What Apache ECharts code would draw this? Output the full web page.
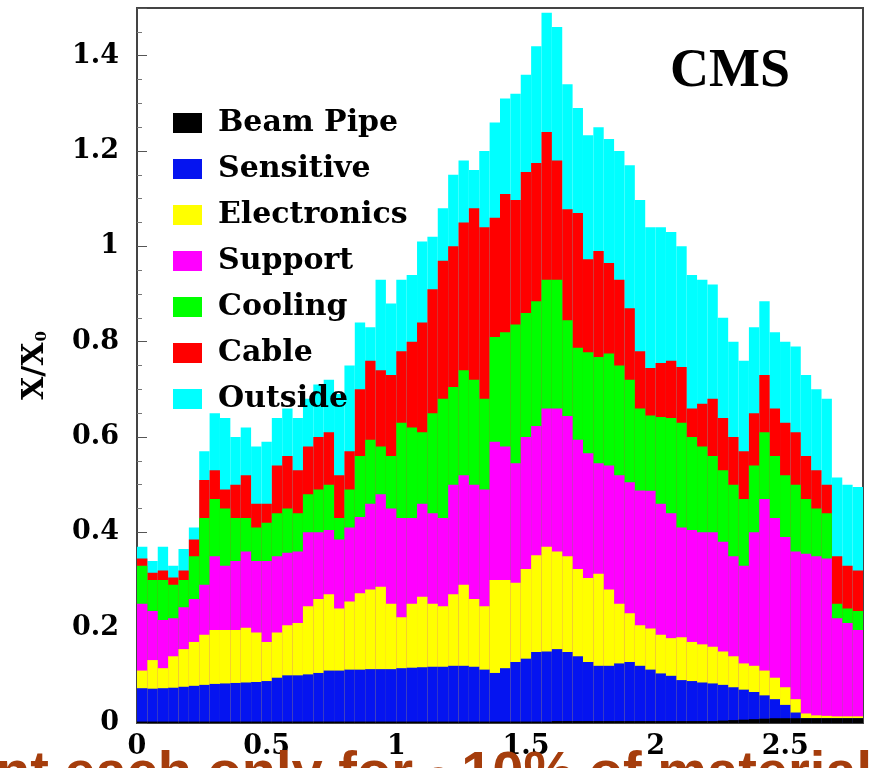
<!DOCTYPE html>
<html>
<head>
<meta charset="utf-8">
<script src="https://cdn.jsdelivr.net/npm/echarts@6/dist/echarts.min.js"></script>
<style>
	html, body { margin: 0; background: #fff; }
	#chart { width: 871px; height: 768px; }
</style>
</head>
<body>
<div id="chart"></div>
<script>
// eta histogram, bins of 0.04 from 0 to 2.8; each array holds the cumulative top of a layer (X/X0)
const binWidth = 0.04;

const beamTop = [
	0.003, 0.003, 0.003, 0.003, 0.003, 0.003, 0.003, 0.003, 0.003, 0.003,
	0.003, 0.003, 0.003, 0.003, 0.003, 0.003, 0.003, 0.003, 0.003, 0.003,
	0.003, 0.003, 0.003, 0.003, 0.003, 0.003, 0.003, 0.003, 0.003, 0.003,
	0.003, 0.003, 0.003, 0.003, 0.003, 0.003, 0.003, 0.003, 0.003, 0.003,
	0.004, 0.004, 0.004, 0.004, 0.004, 0.004, 0.004, 0.004, 0.004, 0.004,
	0.004, 0.004, 0.004, 0.004, 0.004, 0.004, 0.005, 0.006, 0.007, 0.008,
	0.009, 0.010, 0.010, 0.010, 0.010, 0.010, 0.010, 0.010, 0.010, 0.010
];
const sensitiveTop = [
	0.073, 0.072, 0.073, 0.074, 0.076, 0.078, 0.080, 0.082, 0.083, 0.084,
	0.085, 0.086, 0.088, 0.095, 0.100, 0.100, 0.102, 0.105, 0.110, 0.110,
	0.112, 0.112, 0.113, 0.113, 0.113, 0.115, 0.116, 0.117, 0.118, 0.118,
	0.120, 0.120, 0.118, 0.112, 0.105, 0.115, 0.128, 0.135, 0.149, 0.150,
	0.155, 0.149, 0.140, 0.128, 0.120, 0.120, 0.125, 0.128, 0.120, 0.112,
	0.104, 0.099, 0.090, 0.088, 0.085, 0.083, 0.080, 0.075, 0.070, 0.065,
	0.058, 0.050, 0.038, 0.022, 0.010, 0.010, 0.010, 0.010, 0.010, 0.010
];
const electronicsTop = [
	0.110, 0.132, 0.115, 0.140, 0.155, 0.170, 0.185, 0.195, 0.195, 0.195,
	0.200, 0.190, 0.170, 0.190, 0.205, 0.210, 0.245, 0.260, 0.270, 0.240,
	0.255, 0.272, 0.280, 0.286, 0.250, 0.222, 0.250, 0.265, 0.250, 0.245,
	0.270, 0.290, 0.260, 0.245, 0.300, 0.300, 0.294, 0.323, 0.352, 0.370,
	0.360, 0.350, 0.323, 0.304, 0.313, 0.280, 0.250, 0.230, 0.205, 0.198,
	0.185, 0.178, 0.180, 0.170, 0.165, 0.160, 0.150, 0.140, 0.125, 0.120,
	0.110, 0.095, 0.075, 0.050, 0.020, 0.016, 0.015, 0.014, 0.014, 0.014
];
const supportTop = [
	0.250, 0.235, 0.216, 0.220, 0.243, 0.260, 0.290, 0.350, 0.330, 0.340,
	0.360, 0.340, 0.340, 0.350, 0.357, 0.360, 0.400, 0.400, 0.405, 0.385,
	0.410, 0.432, 0.460, 0.480, 0.450, 0.430, 0.430, 0.460, 0.440, 0.430,
	0.500, 0.520, 0.500, 0.490, 0.590, 0.580, 0.545, 0.600, 0.623, 0.660,
	0.660, 0.644, 0.594, 0.566, 0.545, 0.540, 0.520, 0.505, 0.488, 0.487,
	0.460, 0.440, 0.410, 0.405, 0.400, 0.400, 0.380, 0.350, 0.330, 0.400,
	0.470, 0.430, 0.390, 0.360, 0.355, 0.350, 0.345, 0.220, 0.210, 0.195
];
const coolingTop = [
	0.330, 0.300, 0.300, 0.290, 0.300, 0.350, 0.430, 0.470, 0.450, 0.430,
	0.430, 0.410, 0.420, 0.440, 0.450, 0.440, 0.480, 0.490, 0.500, 0.430,
	0.490, 0.560, 0.594, 0.580, 0.560, 0.630, 0.620, 0.610, 0.650, 0.680,
	0.705, 0.740, 0.720, 0.680, 0.810, 0.820, 0.836, 0.860, 0.885, 0.930,
	0.930, 0.845, 0.787, 0.778, 0.768, 0.775, 0.750, 0.720, 0.660, 0.645,
	0.642, 0.640, 0.630, 0.600, 0.580, 0.560, 0.530, 0.500, 0.470, 0.540,
	0.610, 0.560, 0.520, 0.500, 0.470, 0.450, 0.440, 0.250, 0.240, 0.235
];
const cableTop = [
	0.345, 0.315, 0.320, 0.305, 0.320, 0.385, 0.510, 0.530, 0.490, 0.500,
	0.520, 0.460, 0.460, 0.540, 0.560, 0.530, 0.580, 0.600, 0.610, 0.520,
	0.570, 0.700, 0.760, 0.740, 0.730, 0.780, 0.800, 0.840, 0.910, 0.970,
	1.000, 1.050, 1.080, 1.040, 1.060, 1.110, 1.097, 1.156, 1.175, 1.240,
	1.180, 1.078, 1.070, 0.973, 0.990, 0.965, 0.930, 0.870, 0.780, 0.745,
	0.755, 0.760, 0.747, 0.660, 0.670, 0.680, 0.640, 0.600, 0.570, 0.650,
	0.730, 0.660, 0.630, 0.610, 0.560, 0.530, 0.500, 0.350, 0.330, 0.320
];
const outsideTop = [
	0.370, 0.340, 0.370, 0.330, 0.365, 0.410, 0.570, 0.650, 0.640, 0.600,
	0.620, 0.580, 0.590, 0.640, 0.660, 0.640, 0.680, 0.710, 0.720, 0.690,
	0.750, 0.840, 0.830, 0.930, 0.880, 0.930, 0.940, 1.010, 1.020, 1.080,
	1.150, 1.180, 1.160, 1.200, 1.260, 1.310, 1.320, 1.360, 1.420, 1.490,
	1.460, 1.340, 1.290, 1.233, 1.250, 1.225, 1.200, 1.170, 1.097, 1.040,
	1.040, 1.030, 1.000, 0.940, 0.930, 0.920, 0.850, 0.800, 0.760, 0.830,
	0.885, 0.820, 0.800, 0.790, 0.730, 0.700, 0.680, 0.515, 0.500, 0.495
];

// legend order, bottom layer first
const layers = [
	['Beam Pipe', '#000000', beamTop],
	['Sensitive', '#0514f0', sensitiveTop],
	['Electronics', '#ffff00', electronicsTop],
	['Support', '#ff00ff', supportTop],
	['Cooling', '#00ff00', coolingTop],
	['Cable', '#ff0000', cableTop],
	['Outside', '#00ffff', outsideTop]
];

const eta = beamTop.map((_, i) => +(binWidth * (i + 0.5)).toFixed(2));

const serif = 'DejaVu Serif';

// each layer is drawn at its cumulative height, outermost first, so inner layers paint over it
const series = layers.slice().reverse().map(([name, color, top]) => ({
	name,
	type: 'bar',
	barWidth: '100%',
	barGap: '-100%',
	itemStyle: { color },
	data: top.map((v, i) => [eta[i], v])
}));

const chart = echarts.init(document.getElementById('chart'));

chart.setOption({
	animation: false,
	backgroundColor: '#fff',
	title: {
		text: 'CMS',
		left: 670,
		top: 45,
		padding: 0,
		textStyle: { fontFamily: 'Liberation Serif', fontWeight: 'bold', fontSize: 54, color: '#000' }
	},
	legend: {
		orient: 'vertical',
		left: 173,
		top: 108,
		padding: 0,
		icon: 'rect',
		itemWidth: 29,
		itemHeight: 20,
		itemGap: 16,
		selectedMode: false,
		data: layers.map(l => l[0]),
		textStyle: {
			fontFamily: serif, fontWeight: 'bold', fontSize: 30, color: '#000',
			lineHeight: 20, padding: [0, 0, 0, 11]
		}
	},
	grid: {
		left: 137, top: 8, right: 8, bottom: 45,
		show: true, borderColor: '#444', borderWidth: 2, backgroundColor: '#fff'
	},
	xAxis: {
		type: 'value',
		min: 0,
		max: 2.8,
		interval: 0.5,
		axisLine: { lineStyle: { color: '#444', width: 2 } },
		axisTick: { inside: true, length: 10, lineStyle: { color: '#555' } },
		splitLine: { show: false },
		axisLabel: {
			showMaxLabel: false,
			margin: 10,
			fontFamily: serif, fontWeight: 'bold', fontSize: 27, color: '#000'
		}
	},
	yAxis: {
		type: 'value',
		min: 0,
		max: 1.5,
		interval: 0.2,
		name: '{x|X/X}{s|0}',
		nameLocation: 'middle',
		nameRotate: 90,
		nameGap: 87,
		nameTextStyle: {
			rich: {
				x: { fontFamily: serif, fontWeight: 'bold', fontSize: 30, color: '#000' },
				s: { fontFamily: serif, fontWeight: 'bold', fontSize: 15, color: '#000', verticalAlign: 'bottom', padding: [0, 0, 0, 1] }
			}
		},
		axisLine: { show: true, lineStyle: { color: '#444', width: 2 } },
		axisTick: { inside: true, length: 10, lineStyle: { color: '#555' } },
		minorTick: { show: true, splitNumber: 4, length: 5, lineStyle: { color: '#777' } },
		splitLine: { show: false },
		axisLabel: {
			showMaxLabel: false,
			margin: 18,
			fontFamily: serif, fontWeight: 'bold', fontSize: 27, color: '#000'
		}
	},
	graphic: [{
		type: 'text',
		left: -4,
		top: 747,
		z: 100,
		style: {
			text: 'nt each only for ~10% of material',
			font: 'bold 56px "Liberation Sans"',
			fill: '#a53d0c'
		}
	}],
	series
});
</script>
</body>
</html>
